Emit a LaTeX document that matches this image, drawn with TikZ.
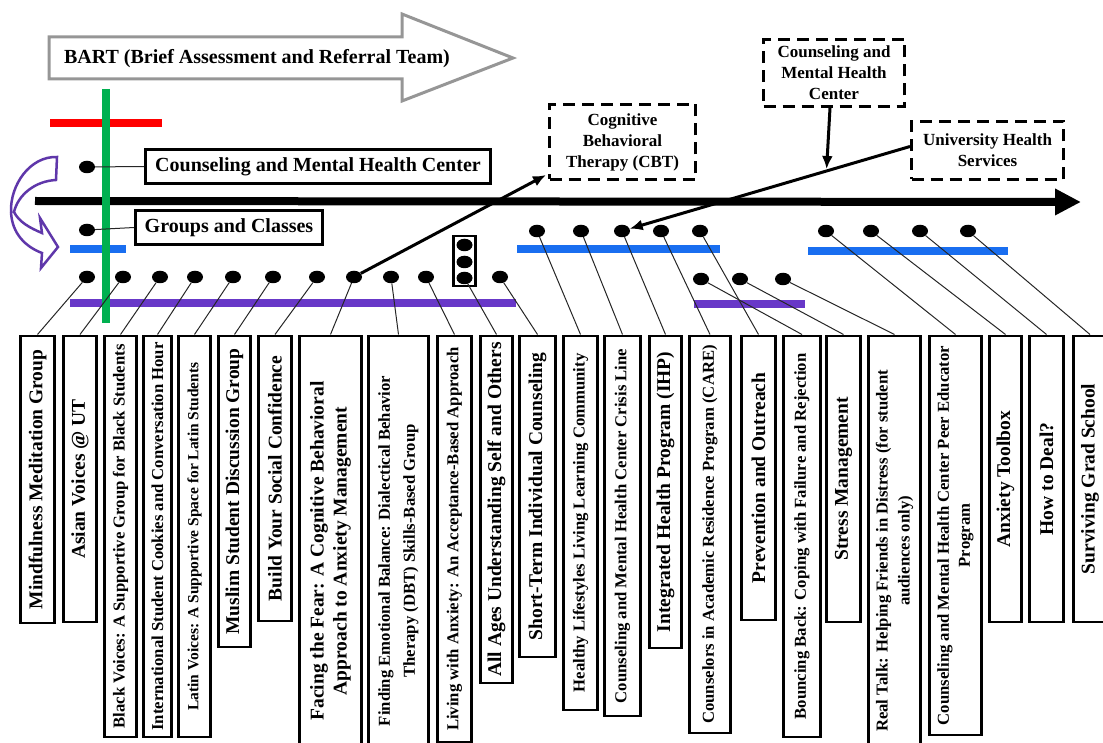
\documentclass[tikz,border=0pt]{standalone}
\usepackage{fontspec}
\setmainfont{Liberation Serif}
\usetikzlibrary{arrows.meta,shapes.geometric,calc}

\definecolor{barblue}{RGB}{25,110,240}
\definecolor{barviolet}{RGB}{104,56,200}
\definecolor{bargreen}{RGB}{0,176,80}
\definecolor{barred}{RGB}{255,0,0}
\definecolor{curlviolet}{RGB}{95,55,170}
\definecolor{outlinegray}{RGB}{150,150,150}

\newcommand\txtL{\fontsize{19.5}{23}\selectfont}
\newcommand\txtS{\fontsize{16.7}{23}\selectfont}

\tikzset{
  blob/.style={ellipse, fill=black, minimum width=16pt, minimum height=12.5pt, inner sep=0pt},
  vbox/.style={draw, line width=2.9pt, rotate=90, anchor=east, inner sep=0pt,
               align=center, font=\bfseries\txtL},
  hbox/.style={draw, line width=2.9pt, inner sep=0pt, font=\bfseries\fontsize{20}{24}\selectfont},
  dbox/.style={draw, line width=3pt, dash pattern=on 12pt off 7pt, inner sep=0pt,
               align=center, font=\bfseries\fontsize{17}{21}\selectfont},
  wire/.style={line width=1pt, draw=black!85},
  stripe/.style={line width=8pt},
  pointer/.style={line width=3pt, -{Latex[length=13pt,width=11pt]}},
}

\begin{document}
\begin{tikzpicture}[x=1pt,y=-1pt]
\useasboundingbox (0,0) rectangle (1103,743);
\clip (0,0) rectangle (1103,743);

% BART banner arrow
\draw[outlinegray, line width=3pt, line join=miter]
  (49,37) -- (402,37) -- (402,14) -- (513,58) -- (402,101) -- (402,79) -- (49,79) -- cycle;
\node[font=\bfseries\fontsize{20}{24}\selectfont] (bart) at (257,59)
  {BART (Brief Assessment and Referral Team)};

% coloured bars
\draw[stripe, barred] (50,123) -- (162,123);
\coordinate (axisL) at (35,201);
\coordinate (axisR) at (1081,202);
\draw[line width=8pt, -{Triangle[length=26pt,width=25pt]}] (axisL) -- (axisR);
\draw[stripe, barblue] (70,249) -- (126,249);
\draw[stripe, barblue] (517,249) -- (720,249);
\draw[stripe, barblue] (808,251) -- (1008,251);
\draw[stripe, barviolet] (70,303) -- (516,303);
\draw[stripe, barviolet] (694,304) -- (805,304);
\draw[stripe, bargreen] (106,89) -- (106,323);

% curved arrow on the left
\draw[curlviolet, line width=2.5pt, line join=miter, fill=white]
  (57,157) .. controls (30,156) and (10,185) .. (11,212)
  .. controls (12,234) and (26,247) .. (42,253)
  -- (41,268) -- (58,247) -- (40,218) -- (42,233)
  .. controls (30,228) and (19,222) .. (14,212)
  .. controls (18,195) and (35,181) .. (56,180)
  -- cycle;

% top-level boxes
\node[hbox, minimum width=345pt, minimum height=34pt] (cmhc) at (318,166.5)
  {Counseling and Mental Health Center};
\node[hbox, minimum width=187pt, minimum height=34pt] (groups) at (229,227.5)
  {Groups and Classes};
\node[blob] (c1) at (87,167) {};
\node[blob] (c2) at (87,230) {};
\draw[wire] (c1) -- (cmhc.west);
\draw[wire] (c2) -- (groups.west);

% dashed boxes
\node[dbox, minimum width=146pt, minimum height=75pt] (cbt) at (622.5,142)
  {\fontsize{17}{23}\selectfont Cognitive\\Behavioral\\Therapy (CBT)};
\node[dbox, minimum width=141pt, minimum height=67pt] (cmhctop) at (834,73)
  {\fontsize{17}{19.5}\selectfont Counseling and\\Mental Health\\Center};
\node[dbox, minimum width=152pt, minimum height=58pt] (uhs) at (987.5,150.5)
  {\fontsize{17}{22}\selectfont University Health\\Services};

% vertical program boxes
\node[vbox, minimum width=287pt, minimum height=34pt] (b1) at (37.5,334.5) {Mindfulness Meditation Group};
\node[vbox, minimum width=286pt, minimum height=33pt] (b2) at (80,334.5) {Asian Voices @ UT};
\node[vbox, minimum width=401pt, minimum height=32pt, font=\bfseries\txtS] (b3) at (120.5,334.5) {Black Voices: A Supportive Group for Black Students};
\node[vbox, minimum width=401pt, minimum height=28pt, font=\bfseries\txtS] (b4) at (157.5,334.5) {International Student Cookies and Conversation Hour};
\node[vbox, minimum width=401pt, minimum height=32pt, font=\bfseries\fontsize{15.5}{20}\selectfont] (b5) at (194.5,334.5) {Latin Voices: A Supportive Space for Latin Students};
\node[vbox, minimum width=311pt, minimum height=32pt] (b6) at (234.5,334.5) {Muslim Student Discussion Group};
\node[vbox, minimum width=285pt, minimum height=33pt] (b7) at (275,334.5) {Build Your Social Confidence};
\node[vbox, minimum width=430pt, minimum height=62pt, font=\bfseries\fontsize{19.5}{23}\selectfont] (b8) at (330.5,334.5) {Facing the Fear: A Cognitive Behavioral\\Approach to Anxiety Management};
\node[vbox, minimum width=430pt, minimum height=60pt, font=\bfseries\fontsize{16.7}{25}\selectfont] (b9) at (398.5,334.5) {Finding Emotional Balance: Dialectical Behavior\\Therapy (DBT) Skills-Based Group};
\node[vbox, minimum width=406pt, minimum height=34pt, font=\bfseries\txtS] (b10) at (454.5,334.5) {Living with Anxiety: An Acceptance-Based Approach};
\node[vbox, minimum width=347pt, minimum height=32pt] (b11) at (496.5,334.5) {All Ages Understanding Self and Others};
\node[vbox, minimum width=321pt, minimum height=36pt] (b12) at (537.5,334.5) {Short-Term Individual Counseling};
\node[vbox, minimum width=374pt, minimum height=34pt, font=\bfseries\txtS] (b13) at (580.5,334.5) {Healthy Lifestyles Living Learning Community};
\node[vbox, minimum width=380pt, minimum height=36pt, font=\bfseries\txtS] (b14) at (622.5,334.5) {Counseling and Mental Health Center Crisis Line};
\node[vbox, minimum width=312pt, minimum height=32pt] (b15) at (665.5,334.5) {Integrated Health Program (IHP)};
\node[vbox, minimum width=397pt, minimum height=41pt, font=\bfseries\txtS] (b16) at (710,334.5) {Counselors in Academic Residence Program (CARE)};
\node[vbox, minimum width=284pt, minimum height=34pt] (b17) at (758.5,334.5) {Prevention and Outreach};
\node[vbox, minimum width=401pt, minimum height=37pt, font=\bfseries\txtS] (b18) at (802,334.5) {Bouncing Back: Coping with Failure and Rejection};
\node[vbox, minimum width=286pt, minimum height=34pt] (b19) at (843.5,334.5) {Stress Management};
\node[vbox, minimum width=430pt, minimum height=52pt, font=\bfseries\fontsize{16.7}{22}\selectfont] (b20) at (894.5,334.5) {Real Talk: Helping Friends in Distress (for student\\audiences only)};
\node[vbox, minimum width=399pt, minimum height=52pt, font=\bfseries\fontsize{16.7}{21}\selectfont] (b21) at (955.5,334.5) {Counseling and Mental Health Center Peer Educator\\Program};
\node[vbox, minimum width=286pt, minimum height=32pt] (b22) at (1005.5,334.5) {Anxiety Toolbox};
\node[vbox, minimum width=286pt, minimum height=34pt] (b23) at (1046.5,334.5) {How to Deal?};
\node[vbox, minimum width=286pt, minimum height=33pt] (b24) at (1090,334.5) {Surviving Grad School};

% dots of the group row
\node[blob] (a1) at (87,277) {};
\node[blob] (a2) at (123,277) {};
\node[blob] (a3) at (160,277) {};
\node[blob] (a4) at (195,277) {};
\node[blob] (a5) at (233,277) {};
\node[blob] (a6) at (273,277) {};
\node[blob] (a7) at (317,277) {};
\node[blob] (a8) at (354,277) {};
\node[blob] (a9) at (391,277) {};
\node[blob] (a10) at (426,277) {};
\node[draw, line width=2.9pt, minimum width=22pt, minimum height=50pt, inner sep=0pt] (trio) at (464.5,261) {};
\node[blob] (t1) at (464.5,245) {};
\node[blob] (t2) at (464.5,262) {};
\node[blob] (t3) at (464.5,278) {};
\node[blob] (a12) at (500,277) {};

% dots of the service rows
\node[blob] (g1) at (537,231) {};
\node[blob] (g2) at (581,231) {};
\node[blob] (g3) at (622,231) {};
\node[blob] (g4) at (661,231) {};
\node[blob] (g5) at (700,231) {};
\node[blob] (h1) at (701,279) {};
\node[blob] (h2) at (740,279) {};
\node[blob] (h3) at (783,279) {};
\node[blob] (k1) at (826,231) {};
\node[blob] (k2) at (871,231) {};
\node[blob] (k3) at (920,231) {};
\node[blob] (k4) at (968,231) {};

% dot-to-box connectors
\draw[wire] (a1) -- (b1.east);
\draw[wire] (a2) -- (b2.east);
\draw[wire] (a3) -- (b3.east);
\draw[wire] (a4) -- (b4.east);
\draw[wire] (a5) -- (b5.east);
\draw[wire] (a6) -- (b6.east);
\draw[wire] (a7) -- (b7.east);
\draw[wire] (a8) -- (b8.east);
\draw[wire] (a9) -- (b9.east);
\draw[wire] (a10) -- (b10.east);
\draw[wire] (t3) -- (b11.east);
\draw[wire] (a12) -- (b12.east);
\draw[wire] (g1) -- (b13.east);
\draw[wire] (g2) -- (b14.east);
\draw[wire] (g3) -- (b15.east);
\draw[wire] (g4) -- (b16.east);
\draw[wire] (g5) -- (b17.east);
\draw[wire] (h1) -- (b18.east);
\draw[wire] (h2) -- (b19.east);
\draw[wire] (h3) -- (b20.east);
\draw[wire] (k1) -- (b21.east);
\draw[wire] (k2) -- (b22.east);
\draw[wire] (k3) -- (b23.east);
\draw[wire] (k4) -- (b24.east);

% referral arrows
\draw[pointer] (a8) -- ($(cbt.south west)+(-2,-6)$);
\coordinate (uhsfoot) at ($(uhs.west)+(0,-4)$);
\draw[pointer] (uhsfoot) -- (g3);
\coordinate (hit) at ($(uhsfoot)!0.29!(g3)$);
\coordinate (cmhcfoot) at ($(cmhctop.south)+(-4,0)$);
\draw[pointer, shorten >=2pt] (cmhcfoot) -- (hit);
\end{tikzpicture}
\end{document}
